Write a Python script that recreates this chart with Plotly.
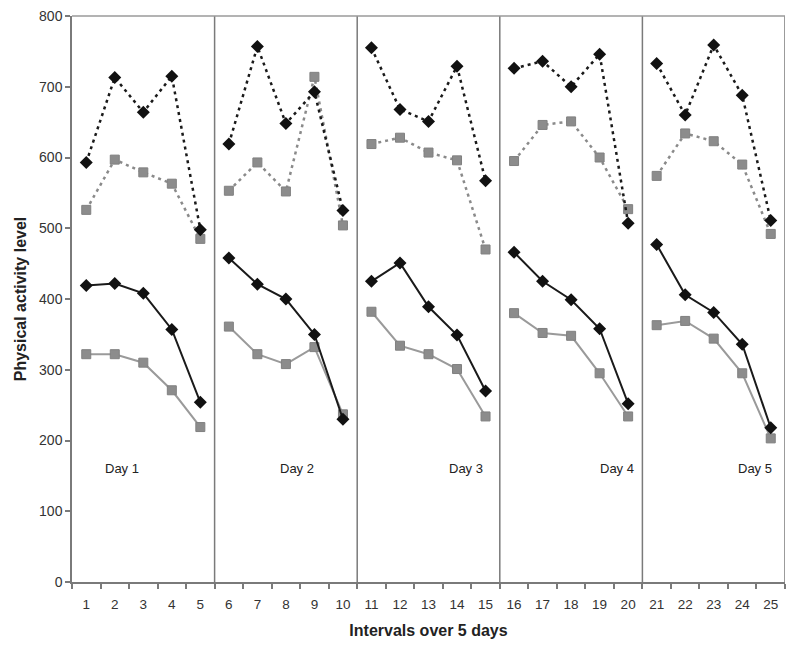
import plotly.graph_objects as go

intervals = list(range(1, 26))
tick_labels = [str(i) for i in intervals]
days = ["Day 1", "Day 2", "Day 3", "Day 4", "Day 5"]
day_label_x = [2.25, 8.4, 14.3, 19.6, 24.45]
day_label_y = 160

black_dotted = [593, 713, 664, 715, 498,
                619, 757, 648, 693, 525,
                755, 668, 651, 729, 567,
                726, 736, 700, 746, 507,
                733, 660, 759, 688, 511]
gray_dotted = [526, 597, 579, 563, 485,
               553, 593, 552, 714, 504,
               619, 628, 607, 596, 470,
               595, 646, 651, 600, 527,
               574, 634, 623, 590, 492]
black_solid = [419, 422, 408, 357, 254,
               458, 421, 400, 350, 230,
               425, 451, 389, 349, 270,
               466, 425, 399, 358, 252,
               477, 406, 381, 336, 218]
gray_solid = [322, 322, 310, 271, 219,
              361, 322, 308, 332, 237,
              382, 334, 322, 301, 234,
              380, 352, 348, 295, 234,
              363, 369, 344, 295, 203]

per_day = 5


def split_days(vals):
    xs, ys = [], []
    for d in range(len(days)):
        for k in range(per_day):
            i = d * per_day + k
            xs.append(intervals[i])
            ys.append(vals[i])
        xs.append(None)
        ys.append(None)
    return xs, ys


fig = go.Figure()

series = [
    (gray_solid, dict(color="#9a9a9a", width=2, dash="solid"),
     dict(symbol="square", size=9, color="#8c8c8c", line=dict(color="#808080", width=1))),
    (black_solid, dict(color="#1a1a1a", width=2, dash="solid"),
     dict(symbol="diamond", size=10, color="#111111")),
    (gray_dotted, dict(color="#8a8a8a", width=2.5, dash="3px,4px"),
     dict(symbol="square", size=9, color="#8c8c8c", line=dict(color="#808080", width=1))),
    (black_dotted, dict(color="#1a1a1a", width=2.5, dash="3px,4px"),
     dict(symbol="diamond", size=10, color="#111111")),
]
for vals, ln, mk in series:
    xs, ys = split_days(vals)
    fig.add_trace(go.Scatter(x=xs, y=ys, mode="lines+markers", line=ln,
                             marker=mk, connectgaps=False, showlegend=False))

# day separators and frame
for d in range(1, len(days) + 1):
    xb = intervals[d * per_day - 1] + 0.5
    fig.add_shape(type="line", xref="x", yref="paper", x0=xb, x1=xb, y0=0, y1=1,
                  line=dict(color="#7a7a7a", width=1.5))
fig.add_shape(type="line", xref="paper", yref="paper", x0=0, x1=1, y0=1, y1=1,
              line=dict(color="#9a9a9a", width=1.5))

for name, xv in zip(days, day_label_x):
    fig.add_annotation(x=xv, y=day_label_y, text=name, showarrow=False,
                       font=dict(family="Liberation Sans, Arial", size=13, color="#222222"))

fig.update_layout(
    width=800, height=654,
    margin=dict(l=64, r=23, t=8, b=80),
    plot_bgcolor="white", paper_bgcolor="white",
    font=dict(family="Liberation Sans, Arial", color="#333333"),
)
fig.update_xaxes(
    range=[0.5, 25.5], tickmode="array", tickvals=intervals, ticktext=tick_labels,
    ticks="", showgrid=False, zeroline=False, automargin=False,
    showline=True, linecolor="#7a7a7a", linewidth=1.5,
    tickfont=dict(size=13.5, color="#333333"), ticklabelstandoff=9,
    minor=dict(tickmode="linear", tick0=0.5, dtick=1, ticks="outside", ticklen=5,
               tickcolor="#7a7a7a", tickwidth=1.5, showgrid=False),
    title=dict(text="<b>Intervals over 5 days</b>", font=dict(size=16, color="#222222"), standoff=14),
)
fig.update_yaxes(
    range=[0, 800], tickmode="linear", tick0=0, dtick=100,
    ticks="outside", ticklen=5, tickcolor="#7a7a7a", tickwidth=1.5,
    showgrid=False, zeroline=False, automargin=False, ticklabeloverflow="allow",
    showline=True, linecolor="#7a7a7a", linewidth=1.5,
    tickfont=dict(size=14, color="#333333"),
    title=dict(text="<b>Physical activity level</b>", font=dict(size=16, color="#222222"), standoff=8),
)

fig.write_html("out.html")
